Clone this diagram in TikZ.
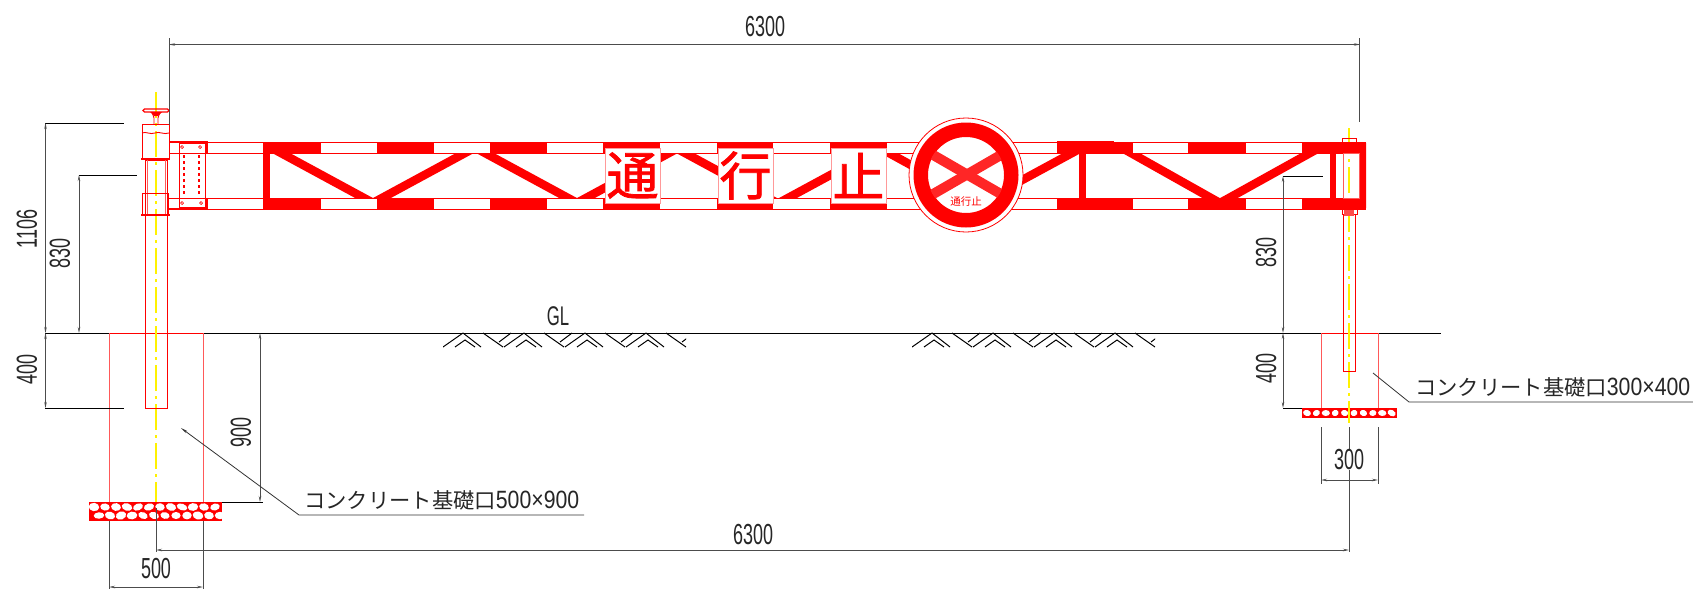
\documentclass[tikz,border=0pt]{standalone}
\usepackage{graphicx}
\usepackage{fontspec}
\setmainfont{Liberation Sans}
\newfontfamily\jpfont{Noto Sans CJK JP}
\newfontfamily\jpheavy[FakeBold=1.5]{Noto Sans CJK JP}
\usetikzlibrary{arrows.meta}
\newcommand{\dimtxt}[1]{\scalebox{.62}[1]{\fontsize{29}{29}\selectfont #1}}
\newcommand{\labeltxt}[2]{{\jpfont\fontsize{21.3}{22}\selectfont #1}\scalebox{.85}[1]{\fontsize{25}{25}\selectfont #2}}
\newcommand{\bigtxt}[1]{\jpheavy\fontsize{52}{52}\selectfont\textcolor{red}{#1}}

\begin{document}
\begin{tikzpicture}[
    x=1pt, y=-1pt,
    steel/.style={draw=red, line width=0.9pt},
    pale/.style={draw=red!65, line width=1pt},
    solid red/.style={fill=red, draw=none},
    chord/.style={draw=red, line width=0.8pt},
    brace/.style={draw=red, line width=7pt},
    diagonal/.style={draw=red, line width=8.5pt, line cap=butt},
    centerline/.style={draw=yellow, line width=1.5pt, dash pattern=on 26pt off 5pt on 3pt off 5pt},
    earth/.style={draw=black, line width=1pt},
    extline/.style={draw=black!70, line width=0.8pt},
    dimline/.style={draw=black!70, line width=0.8pt, {Stealth[length=6pt,width=2.5pt]}-{Stealth[length=6pt,width=2.5pt]}},
    leader/.style={draw=black!80, line width=0.8pt},
    dimtext/.style={inner sep=0pt, text=black!85},
    signpanel/.style={fill=white, draw=red!40, line width=0.5pt, minimum size=55pt, inner sep=0pt}
]
\useasboundingbox (0,0) rectangle (1693,589);

% Ground line
\coordinate (glL) at (45,333);
\coordinate (glR) at (1441,333);
\draw[draw=black, line width=1pt] (glL) -- (glR);
\draw[steel] (109,333) -- (203,333);
\draw[steel] (1321,333) -- (1378,333);
\node[dimtext] (gl) at (558,316) {\scalebox{.62}[1]{\fontsize{27}{27}\selectfont GL}};

% Earth hatching
\begin{scope}
\clip (443,330) rectangle (686,348) (912,330) rectangle (1155,348);
\foreach \x in {443,504,565,626,912,973,1034,1095} {
    \draw[earth] (\x,347) -- ++(20,-14);
    \draw[earth] (\x+12,347) -- ++(10,-7) -- ++(10,7);
    \draw[earth] (\x+20,333) -- ++(18,14);
    \draw[earth] (\x+40,333) -- ++(20,14);
    \draw[earth] (\x+56,342) -- ++(12,-9);
}
\end{scope}

% Foundations
\draw[pale] (109,333) -- (109,503);
\draw[pale] (203,333) -- (203,503);
\draw[pale] (1321,333) -- (1321,408);
\draw[pale] (1378,333) -- (1378,408);

% Rubble under the foundations
\pgfmathsetseed{11}
\fill[red] (89,502) rectangle (222,521);
\foreach \i in {0,...,11} {
    \pgfmathsetmacro\rx{4.6+1.0*rnd}
    \pgfmathsetmacro\ry{3.2+1.0*rnd}
    \pgfmathsetmacro\tilt{-25+50*rnd}
    \fill[white, rotate around={\tilt:(94+11*\i,507)}] (94+11*\i,507) ellipse [x radius=\rx, y radius=\ry];
    \pgfmathsetmacro\rx{4.6+1.0*rnd}
    \pgfmathsetmacro\ry{3.2+1.0*rnd}
    \pgfmathsetmacro\tilt{-25+50*rnd}
    \fill[white, rotate around={\tilt:(99+11*\i,515.5)}] (99+11*\i,515.5) ellipse [x radius=\rx, y radius=\ry];
}
\fill[red] (1302,408) rectangle (1397,418);
\foreach \i in {0,...,9} {
    \pgfmathsetmacro\rx{3.4+1.0*rnd}
    \pgfmathsetmacro\tilt{-30+60*rnd}
    \fill[white, rotate around={\tilt:(1307+9.4*\i,413)}] (1307+9.4*\i,413) ellipse [x radius=\rx, y radius=3];
}

% Centre lines
\draw[centerline] (156,92) -- (156,502);
\draw[centerline] (1349,128) -- (1349,423);

% Left post
\draw[steel] (145,160) rectangle (167,408);
\draw[pale, line width=.6pt] (147,160) -- (147,216);
\draw[pale, line width=.6pt] (165,160) -- (165,216);
\draw[steel] (142,124) rectangle (169,158);
\draw[solid red] (141,157.5) rectangle (170,160);
\draw[steel] (142,193) rectangle (168,215);
\draw[solid red] (141,214) rectangle (170,216);
\draw[steel] (142,133) .. controls (146,131) and (150,135) .. (155,133) .. controls (159,131) and (164,135) .. (169,133);
% Handle
\draw[steel, line width=1.2pt, rounded corners=1.5pt] (143,109) rectangle (169,112);
\draw[steel] (152,112) -- (154,118) -- (154,124);
\draw[steel] (160,112) -- (158,118) -- (158,124);
\fill[red] (150,112) -- (162,112) -- (158,116) -- (154,116) -- cycle;

% Right post
\draw[steel] (1343,214) rectangle (1355,371);
\draw[steel] (1342,208) rectangle (1357,214);
\fill[red!70] (1344,209) rectangle (1354,216);
\draw[steel] (1342,138) rectangle (1356,142);

% Beam chords
\foreach \y in {142,153,198,209} {
    \draw[chord] (169,\y) -- (1366,\y);
}

% Red blocks on the chords
\foreach \x/\w in {263/58,377/57,490/57,603/57,717/56,830/57,943/57,1057/76,1188/58,1302/64} {
    \fill[red] (\x,142) rectangle ++(\w,11);
    \fill[red] (\x,198) rectangle ++(\w,11);
}
\fill[red] (1057,141) rectangle (1114,145);
\fill[red] (1057,206) rectangle (1114,210);

% Uprights
\draw[brace] (266.5,150) -- (266.5,200);
\draw[brace] (1082,150) -- (1082,200);
\draw[brace, line width=6pt] (1333,150) -- (1333,200);
\fill[red, rounded corners=1pt] (1360,142) rectangle (1366,209);
\draw[pale, line width=.8pt] (1343,153) rectangle (1359,198);

% Diagonals
\begin{scope}
\clip (263,153) rectangle (1366,198);
\foreach \xa/\xb in {281/364,465/382,485/568,669/586,685/768,871/788,889/971,1072/989,1131/1211,1310/1229} {
    \pgfmathsetmacro\dx{(\xb-\xa)*0.107}
    \draw[diagonal] (\xa-\dx,148.2) -- (\xb+\dx,202.8);
}
\end{scope}

% Letter panels
\node[signpanel] (tsu) at (632.5,175.5) {\bigtxt{通}};
\node[signpanel] (ko) at (745.5,175.5) {\bigtxt{行}};
\node[signpanel] (shi) at (858.5,175.5) {\bigtxt{止}};

% Bracket
\draw[steel, line width=1.2pt] (169,142) -- (207,142) -- (207,153) (169,209) -- (207,209) -- (207,198);
\draw[steel] (179,143) rectangle (205,207);
\draw[steel, dashed, line width=1.1pt] (184,155) -- (184,195);
\draw[steel, dashed, line width=1.1pt] (199,155) -- (199,195);
\foreach \x/\y in {182/147,200/147,182/203,201/203} {
    \draw[steel, line width=.7pt] (\x,\y) circle (1.5);
}

% Round sign
\fill[white] (966,175) circle (57);
\draw[draw=red, line width=.8pt] (966,175) circle (57);
\fill[red, even odd rule] (966,175) circle (52.5) (966,175) circle (38);
\begin{scope}
    \clip (966,175) circle (38.5);
    \draw[draw=red!85, line width=10pt] (928,152) -- (1006,197);
    \draw[draw=red!85, line width=10pt] (1006,152) -- (928,197);
\end{scope}
\node[inner sep=1pt, fill=white, text=red] (signtxt) at (966,202) {\jpfont\fontsize{10.5}{10.5}\selectfont 通行止};

% Dimension 6300 top
\coordinate (t1) at (169,44.5);
\coordinate (t2) at (1360,44.5);
\draw[extline] (169,38) -- (169,125);
\draw[extline] (1359.5,38) -- (1359.5,122);
\draw[dimline] (t1) -- (t2);
\node[dimtext] (top6300) at (765,27) {\dimtxt{6300}};

% Left dimensions
\draw[draw=black, line width=.9pt] (45,123) -- (124,123);
\draw[draw=black, line width=.9pt] (79,175) -- (137,175);
\draw[draw=black, line width=.9pt] (45,408) -- (124,408);
\coordinate (a1) at (45.5,123);
\coordinate (a2) at (45.5,333);
\coordinate (a3) at (45.5,408);
\coordinate (b1) at (79,175);
\coordinate (b2) at (79,333);
\draw[dimline] (a1) -- (a2);
\draw[dimline] (a2) -- (a3);
\draw[dimline] (b1) -- (b2);
\node[dimtext, rotate=90] (l1106) at (27,229) {\dimtxt{1106}};
\node[dimtext, rotate=90] (l830) at (60,253) {\dimtxt{830}};
\node[dimtext, rotate=90] (l400) at (27,369) {\dimtxt{400}};

% Foundation depth 900
\coordinate (c1) at (260,333);
\coordinate (c2) at (260,502);
\draw[draw=black, line width=.9pt] (222,502) -- (263,502);
\draw[dimline] (c1) -- (c2);
\node[dimtext, rotate=90] (l900) at (241,432) {\dimtxt{900}};

% Width 500 and lower 6300
\coordinate (d1) at (109,587);
\coordinate (d2) at (203,587);
\draw[extline] (109,521) -- (109,589);
\draw[extline] (203,521) -- (203,589);
\draw[dimline] (d1) -- (d2);
\node[dimtext] (l500) at (156,569) {\dimtxt{500}};
\coordinate (e1) at (156,550);
\coordinate (e2) at (1349,550);
\draw[extline] (156,508) -- (156,552);
\draw[extline] (1349,427) -- (1349,552);
\draw[dimline] (e1) -- (e2);
\node[dimtext] (bot6300) at (753,535) {\dimtxt{6300}};

% Right dimensions
\draw[draw=black, line width=.9pt] (1283,176) -- (1323,176);
\draw[draw=black, line width=.9pt] (1283,408) -- (1302,408);
\coordinate (f1) at (1283,176);
\coordinate (f2) at (1283,333);
\coordinate (f3) at (1283,408);
\draw[dimline] (f1) -- (f2);
\draw[dimline] (f2) -- (f3);
\node[dimtext, rotate=90] (r830) at (1266,252) {\dimtxt{830}};
\node[dimtext, rotate=90] (r400) at (1266,368) {\dimtxt{400}};
\coordinate (g1) at (1321,480);
\coordinate (g2) at (1378,480);
\draw[extline] (1321,427) -- (1321,484);
\draw[extline] (1378,427) -- (1378,484);
\draw[dimline] (g1) -- (g2);
\node[dimtext, fill=white, inner xsep=1pt] (r300) at (1349,460) {\dimtxt{300}};

% Leaders
\coordinate (tipA) at (181,428);
\coordinate (kneeA) at (299,515);
\coordinate (endA) at (584,515);
\draw[leader, {Stealth[length=7pt,width=2.5pt]}-] (tipA) -- (kneeA) -- (endA);
\node[anchor=base west, inner sep=0pt, text=black!85] (noteA) at (304,508) {\labeltxt{コンクリート基礎口}{500×900}};
\coordinate (tipB) at (1373,373);
\coordinate (kneeB) at (1409,402);
\coordinate (endB) at (1693,402);
\draw[leader] (tipB) -- (kneeB) -- (endB);
\node[anchor=base west, inner sep=0pt, text=black!85] (noteB) at (1415,395) {\labeltxt{コンクリート基礎口}{300×400}};

\end{tikzpicture}
\end{document}
